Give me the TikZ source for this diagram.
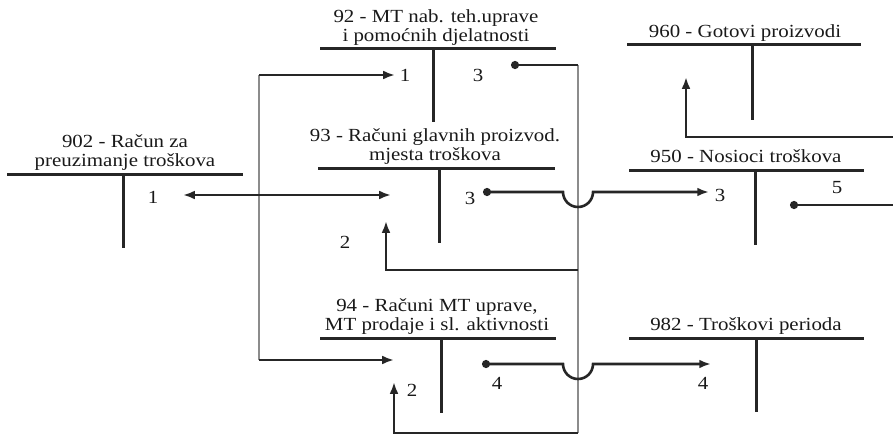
\documentclass[tikz,border=0pt]{standalone}
\usepackage{fontspec}
\setmainfont{Liberation Serif}[FakeStretch=1.13]
\usetikzlibrary{arrows.meta}
\tikzset{
  acctitle/.style={font=\fontsize{18.5}{18.5}\selectfont, align=center, anchor=south, inner sep=0pt, text=black!90},
  amount/.style={font=\fontsize{18.5}{18.5}\selectfont, inner sep=0pt, text=black!90},
  tbar/.style={line width=3pt, draw=black!85},
  linkline/.style={line width=2.6pt, draw=black!85},
  guideline/.style={line width=1.8pt, draw=black!45},
}
\begin{document}
\begin{tikzpicture}[x=1pt,y=-1pt]
\useasboundingbox (0,0) rectangle (893,436);

% ---- T accounts ----
\node[acctitle] (t92) at (436,47) {92 - MT nab. teh.uprave\\i pomoćnih djelatnosti\strut};
\draw[tbar] (320,49) -- (556,49); \draw[tbar] (433,49) -- (433,122);

\node[acctitle] (t902) at (125,172) {902 - Račun za\\preuzimanje troškova\strut};
\draw[tbar] (7,174) -- (243,174); \draw[tbar] (123,174) -- (123,248);

\node[acctitle] (t93) at (435,166) {93 - Računi glavnih proizvod.\\mjesta troškova\strut};
\draw[tbar] (318,168) -- (555,168); \draw[tbar] (439,168) -- (439,243);

\node[acctitle] (t960) at (745,43) {960 - Gotovi proizvodi\strut};
\draw[tbar] (627,45) -- (861,45); \draw[tbar] (752,45) -- (752,120);

\node[acctitle] (t950) at (746,168) {950 - Nosioci troškova\strut};
\draw[tbar] (629,170) -- (864,170); \draw[tbar] (755,170) -- (755,245);

\node[acctitle] (t94) at (437,336) {94 - Računi MT uprave,\\MT prodaje i sl. aktivnosti\strut};
\draw[tbar] (320,338) -- (556,338); \draw[tbar] (441,338) -- (441,413);

\node[acctitle] (t982) at (746,336) {982 - Troškovi perioda\strut};
\draw[tbar] (629,338) -- (864,338); \draw[tbar] (756,338) -- (756,412);

% ---- labels ----
\node[amount] (a92in) at (405,75) {1};
\node[amount] (a92out) at (478,75) {3};
\node[amount] (a902) at (153,197) {1};
\node[amount] (a93out) at (470,198) {3};
\node[amount] (a93in) at (345,242) {2};
\node[amount] (a950in) at (720,195) {3};
\node[amount] (a950out) at (837,188) {5};
\node[amount] (a94out) at (497,383) {4};
\node[amount] (a94in) at (412,390) {2};
\node[amount] (a982in) at (703,383) {4};

% ---- coordinates ----
\coordinate (L1) at (259,75);
\coordinate (L2) at (259,360);
\coordinate (R1) at (578,65);
\coordinate (R2) at (578,433);
\coordinate (p92in) at (395,75);
\coordinate (p92dot) at (511,65);
\coordinate (p902l) at (183,195);
\coordinate (p902r) at (391,195);
\coordinate (p93dot) at (483,192);
\coordinate (p950in) at (709,192);
\coordinate (p93up) at (386,221);
\coordinate (p93c) at (386,270);
\coordinate (p93r) at (578,270);
\coordinate (p94in) at (394,360);
\coordinate (p94dot) at (482,364);
\coordinate (p982in) at (711,364);
\coordinate (p94up) at (394,382);
\coordinate (p94c) at (394,433);
\coordinate (p960up) at (686,77);
\coordinate (p960c) at (686,137);
\coordinate (p960r) at (893,137);
\coordinate (p950dot) at (790,205);
\coordinate (p950r) at (893,205);

% ---- guides ----
\draw[guideline] (L1) -- (L2);
\draw[guideline] (R1) -- (R2);

% ---- connectors ----
\draw[linkline,-{Latex[scale=0.8]}] (L1) -- (p92in);
\draw[linkline,-{Latex[scale=0.8]}] (L2) -- (p94in);
\draw[linkline,{Circle[scale=0.75]}-] (p92dot) -- (R1);
\draw[linkline,{Latex[scale=0.8]}-{Latex[scale=0.8]}] (p902l) -- (p902r);
\draw[linkline,{Circle[scale=0.75]}-{Latex[scale=0.8]}] (p93dot) -- (563,192) arc[start angle=180,end angle=0,radius=15] -- (p950in);
\draw[linkline,{Circle[scale=0.75]}-{Latex[scale=0.8]}] (p94dot) -- (563,364) arc[start angle=180,end angle=0,radius=15] -- (p982in);
\draw[linkline,-{Latex[scale=0.8]}] (p93r) -- (p93c) -- (p93up);
\draw[linkline,-{Latex[scale=0.8]}] (R2) -- (p94c) -- (p94up);
\draw[linkline,-{Latex[scale=0.8]}] (p960r) -- (p960c) -- (p960up);
\draw[linkline,{Circle[scale=0.75]}-] (p950dot) -- (p950r);
\end{tikzpicture}
\end{document}
